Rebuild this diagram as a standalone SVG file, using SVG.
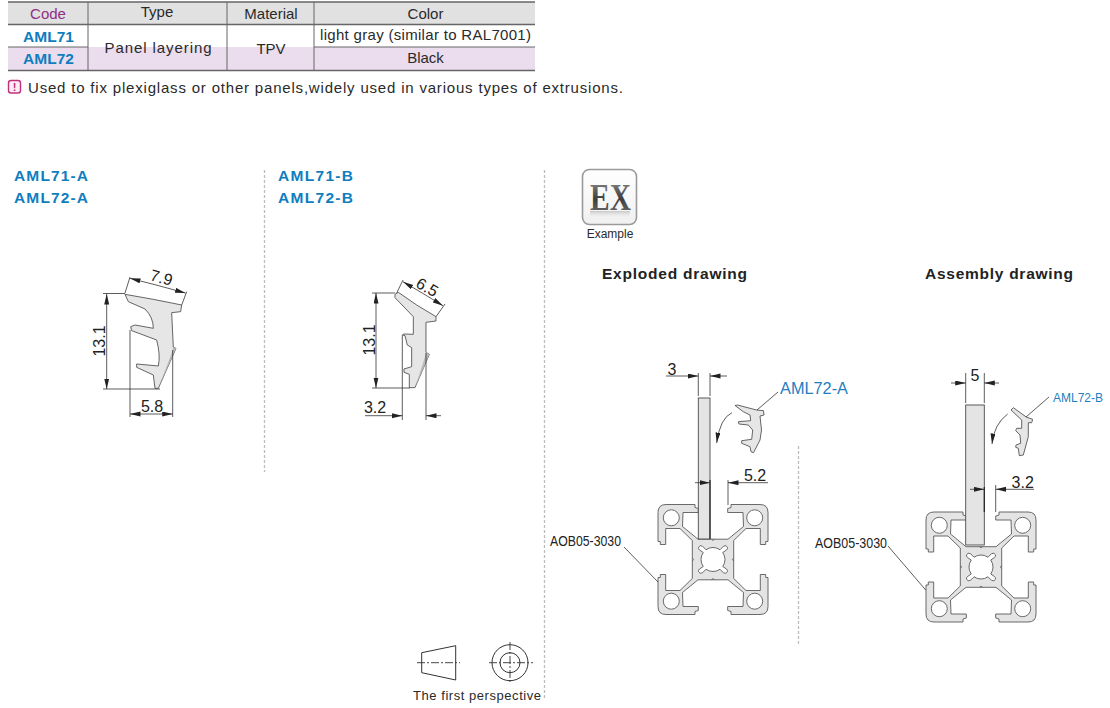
<svg xmlns="http://www.w3.org/2000/svg" xmlns:xlink="http://www.w3.org/1999/xlink" width="1110" height="708" viewBox="0 0 1110 708">
<style>
text{font-family:"Liberation Sans",Arial,sans-serif;fill:#2a2a2a}
.th{font-size:15px;text-anchor:middle}
.td{font-size:15px;text-anchor:middle}
.code{font-size:15.5px;font-weight:bold;fill:#0f7ebf;text-anchor:middle}
.head{font-size:15.5px;font-weight:bold;fill:#0f7ebf}
.sub{font-size:15.5px;font-weight:bold;fill:#222}
.dim{font-size:16px;text-anchor:middle;fill:#222}
.narrow{font-size:15px;fill:#222}
.tl{stroke:#666;stroke-width:1;fill:none}
.tlb{stroke:#666;stroke-width:1.6;fill:none}
.sep{stroke:#bdbdbd;stroke-width:1.3;stroke-dasharray:3 2;fill:none}
.seal{fill:#e6e6e6;stroke:#555;stroke-width:.9;stroke-linejoin:round}
.ln{stroke:#333;stroke-width:.8;fill:none}
.da{stroke:#333;stroke-width:.8;fill:none;marker-end:url(#arr)}
.prof{fill:#e4e4e4;stroke:#5a5a5a;stroke-width:.9;stroke-linejoin:round}
.hole{fill:#fff;stroke:#5a5a5a;stroke-width:.9;stroke-linejoin:round}
.plate{fill:#e4e4e4;stroke:#4a4a4a;stroke-width:.9}
.sym{fill:none;stroke:#333;stroke-width:1}
</style>
<defs>
<marker id="arr" markerUnits="userSpaceOnUse" markerWidth="11" markerHeight="6" refX="10.5" refY="2.5" orient="auto"><path d="M0 0L10.5 2.5L0 5Z" fill="#222"/></marker>
<linearGradient id="exg" x1="0" y1="0" x2="0" y2="1"><stop offset="0" stop-color="#9a9a9a"/><stop offset=".55" stop-color="#3d3d3d"/><stop offset="1" stop-color="#777"/></linearGradient>
<linearGradient id="icon" x1="0" y1="0" x2="0" y2="1"><stop offset="0" stop-color="#fff"/><stop offset="1" stop-color="#f0f0f0"/></linearGradient>
<linearGradient id="refl" x1="0" y1="0" x2="0" y2="1"><stop offset="0" stop-color="#aaa"/><stop offset="1" stop-color="#fff" stop-opacity="0"/></linearGradient>
<g id="extr">
<path class="prof" d="M-20.7 0L-20.7 -19L-33 -31L-47.3 -31L-47.3 -15L-52.7 -15L-52.7 -18L-55 -18L-55 -47Q-55 -55 -47 -55L-18 -55L-18 -52L-14.7 -51L-14.7 -47L-30 -47L-30.5 -33L-15 -20.3L15 -20.3L30.5 -33L30 -47L14.7 -47L14.7 -51L18 -52L18 -55L47 -55Q55 -55 55 -47L55 -18L52.7 -18L52.7 -15L47.3 -15L47.3 -31L33 -31L20.700 -19L20.700 19L33 31L47.3 31L47.3 15L52.7 15L52.7 18L55 18L55 47Q55 55 47 55L18 55L18 52L14.7 51L14.7 47L30 47L30.5 33L15 20.3L-15 20.3L-30.5 33L-30 47L-14.7 47L-14.7 51L-18 52L-18 55L-47 55Q-55 55 -55 47L-55 18L-52.7 18L-52.7 15L-47.3 15L-47.3 31L-33 31L-20.7 19Z"/>
<path class="hole" d="M-7 -9.75A12 12 0 0 1 7 -9.75L10.500 -13.3Q13.300 -14.800 14.400 -12.300Q14.900 -10.700 13.500 -9.500L9.750 -7A12 12 0 0 1 9.750 7L13.500 9.500Q14.900 10.700 14.400 12.300Q13.300 14.800 10.500 13.300L7 9.750A12 12 0 0 1 -7 9.750L-10.500 13.300Q-13.300 14.800 -14.400 12.300Q-14.900 10.700 -13.500 9.500L-9.750 7A12 12 0 0 1 -9.750 -7L-13.500 -9.500Q-14.900 -10.700 -14.400 -12.300Q-13.300 -14.800 -10.500 -13.300Z"/>
<path d="M-1.500 -20.300L0 -19L1.500 -20.300M-1.500 20.300L0 19L1.500 20.300M-20.700 -1.500L-19.400 0L-20.700 1.500M20.700 -1.500L19.400 0L20.700 1.500" fill="none" stroke="#5a5a5a" stroke-width=".8"/>
<circle class="hole" cx="-41.7" cy="-41.7" r="8"/><circle class="hole" cx="41.7" cy="-41.7" r="8"/><circle class="hole" cx="-41.7" cy="41.7" r="8"/><circle class="hole" cx="41.7" cy="41.7" r="8"/>
</g>
</defs>
<rect width="1110" height="708" fill="#fff"/>

<g id="spec-table">
<rect x="8" y="2" width="527" height="22.5" fill="#e1e1e1"/>
<rect x="8" y="47" width="527" height="23.5" fill="#ebdcee"/>
<path class="tlb" d="M8 2H535M8 24.500H535M8 70.500H535"/>
<path class="tl" d="M8 47H88M314 47H535M88 2V70.500M227 2V70.500M314 2V70.500"/>
<text class="th" x="48" y="18.500" style="fill:#8f2f86">Code</text>
<text class="th" x="157" y="17">Type</text>
<text class="th" x="271" y="18.500">Material</text>
<text class="th" x="425.500" y="18.500">Color</text>
<text class="code" x="48.500" y="41.500">AML71</text>
<text class="code" x="48.500" y="63.500">AML72</text>
<text class="td" x="158" y="53" textLength="107">Panel layering</text>
<text class="td" x="271" y="53.500">TPV</text>
<text class="td" x="425.500" y="40" textLength="211">light gray (similar to RAL7001)</text>
<text class="td" x="425.500" y="62.500">Black</text>
</g>

<g id="note">
<rect x="8.500" y="80.500" width="12" height="12.500" rx="2.500" fill="#fbeef4" stroke="#c2307c" stroke-width="1.400"/>
<text x="14.500" y="91" style="font-size:11px;font-weight:bold;fill:#c2307c;text-anchor:middle">!</text>
<text x="28" y="92.500" style="font-size:15px" textLength="595">Used to fix plexiglass or other panels,widely used in various types of extrusions.</text>
</g>

<g id="separators">
<path class="sep" d="M264.500 170V472M544.500 170V700M798.500 446V646"/>
</g>

<g id="seal-a">
<text class="head" x="14" y="181" textLength="74">AML71-A</text>
<text class="head" x="14" y="203" textLength="74">AML72-A</text>
<g transform="translate(90 260) scale(.3333)">
<path class="seal" style="stroke-width:2.700" d="M105 103L190 118L275 135L272 155L245 158L250 262L258 265L205 385L195 385L190 345L140 322L140 312L205 318Q212 285 200 240L125 212L122 200L135 195L190 205Q190 172 165 147L115 125Z"/>
<path d="M250 262L258 265L205 385L245 280Z" fill="#b9b9b9"/>
</g>
<text class="dim" transform="translate(105 341) rotate(-90)">13.1</text>
<text class="dim" transform="translate(160 283) rotate(15)">7.9</text>
<text class="dim" x="152" y="412">5.8</text>
</g>

<g id="seal-b">
<text class="head" x="278" y="181" textLength="75">AML71-B</text>
<text class="head" x="278" y="203" textLength="75">AML72-B</text>
<g transform="translate(350 265) scale(.3333)">
<path class="seal" style="stroke-width:2.700" d="M135 88L145 82L200 120L258 155L258 168L228 172L228 262L238 268L195 368L178 368L178 328L162 322L162 312L185 305L185 248L172 240L165 212L158 210L160 207L190 208L190 155L135 98Z"/>
<path d="M228 262L238 268L195 368L222 285Z" fill="#b9b9b9"/>
</g>
<text class="dim" transform="translate(374.500 340) rotate(-90)">13.1</text>
<text class="dim" transform="translate(424.500 292) rotate(30)">6.5</text>
<text class="dim" x="375" y="413">3.2</text>
</g>

<g id="example-icon">
<rect x="582.500" y="169.500" width="54" height="55" rx="7" fill="url(#icon)" stroke="#9a9a9a" stroke-width="1.600"/>
<text x="610.500" y="210" style="font-family:'Liberation Serif',serif;font-size:38px;font-weight:bold;fill:url(#exg);text-anchor:middle" textLength="41" lengthAdjust="spacingAndGlyphs">EX</text>
<rect x="590" y="211" width="40" height="8" fill="url(#refl)" opacity=".6"/>
<text x="610" y="238" style="font-size:12px;text-anchor:middle">Example</text>
</g>

<g id="exploded">
<text class="sub" x="602" y="279" textLength="145">Exploded drawing</text>
<use href="#extr" xlink:href="#extr" x="713" y="559.500"/>
<rect class="plate" x="698.300" y="398" width="11.700" height="141"/>
<path d="M710 480V539" stroke="#222" stroke-width="1.200"/>
<path class="seal" d="M735 405.500L737.500 405L756.500 410L763.500 410.700L764 415L760 416L761.500 430L760 440L753.500 452.700L751 451.700L750 446.700L741.700 443.300L741.700 440.700L751.700 439.300L752.700 430L748.300 425L739 424L738.300 421.700L750.700 420.700L750 415L743.300 411.700Z"/>
<text x="780" y="394" style="font-size:16px;fill:#1f80c0" textLength="68" lengthAdjust="spacingAndGlyphs">AML72-A</text>
<text class="narrow" x="550" y="546" textLength="71" lengthAdjust="spacingAndGlyphs">AOB05-3030</text>
<text class="dim" x="672" y="375">3</text>
<text class="dim" x="755" y="481">5.2</text>
</g>

<g id="assembly">
<text class="sub" x="925" y="279" textLength="148">Assembly drawing</text>
<use href="#extr" xlink:href="#extr" x="981" y="567"/>
<rect class="plate" x="965.700" y="405" width="18.600" height="140"/>
<path d="M984.300 487V512" stroke="#222" stroke-width="1.200"/>
<path class="seal" d="M1011 410L1013.300 407.700L1026.700 417.300L1032.700 419.300L1031.700 422.700L1028.300 422.700L1028.300 436.700L1023.300 455L1019.300 455.700L1018.300 448.300L1015.700 447.300L1016 445L1020.700 443.300L1020 435L1015.700 430.700L1016.700 428.300L1021.700 428.300L1021.700 420Z"/>
<text x="1053" y="401.500" style="font-size:13.500px;fill:#1f80c0" textLength="50" lengthAdjust="spacingAndGlyphs">AML72-B</text>
<text class="narrow" x="815" y="548" textLength="72" lengthAdjust="spacingAndGlyphs">AOB05-3030</text>
<text class="dim" x="975" y="381">5</text>
<text class="dim" x="1022.700" y="488">3.2</text>
</g>

<g id="projection-symbol">
<path class="sym" d="M421.700 652.700L455.700 645.700V680L421.700 672.700Z"/>
<path d="M417 662.700H460" stroke="#333" stroke-width=".9" stroke-dasharray="8 2 2 2" fill="none"/>
<circle class="sym" cx="510" cy="662.700" r="18"/>
<circle class="sym" cx="510" cy="662.700" r="10"/>
<path d="M489 662.700H533M510 642V684" stroke="#333" stroke-width=".9" stroke-dasharray="8 2 2 2" fill="none"/>
<text x="413" y="700" style="font-size:13px" textLength="128">The first perspective</text>
</g>

<g id="connectors">
<path class="ln" d="M103 293.500H125M103 389H160M130 330V417M172.700 350V417M125 293L130 277M181.700 305L186.700 291.700"/>
<path class="da" d="M106.700 341V294"/><path class="da" d="M106.700 341V389"/>
<path class="da" d="M158 285.500L130 278.300"/><path class="da" d="M158 285.500L185.500 293"/>
<path class="da" d="M151 414H130"/><path class="da" d="M151 414H172.700"/>

<path class="ln" d="M372 293H395M372 388H410M402.300 335V420M426 353V420M396.700 293L403 280M436 316.700L445 304"/>
<path class="da" d="M376 340V293"/><path class="da" d="M376 340V388"/>
<path class="da" d="M423 293.500L403 281.700"/><path class="da" d="M423 293.500L443 305.700"/>
<path class="da" d="M365 415.700H402.300"/><path class="da" d="M441 415.700H426"/>

<path class="ln" d="M698.300 373V396M710 373V396M728 480V505"/>
<path class="da" d="M666 376H698.300"/><path class="da" d="M727 376H710"/>
<path class="da" d="M695 482.700H710"/><path class="da" d="M768 482.700H728"/>
<path class="ln" d="M778 392L757 410M624 547L658 582"/>
<path class="da" d="M732 412.700Q720 418 716.700 443"/>

<path class="ln" d="M965.700 373V403M984.300 373V403M995.700 485V512"/>
<path class="da" d="M951 383H965.700"/><path class="da" d="M999 383H984.300"/>
<path class="da" d="M970 489.300H984.300"/><path class="da" d="M1034 489.300H995.700"/>
<path class="ln" d="M1049 397L1026 417M888 546L925.700 590"/>
<path class="da" d="M1007.700 414Q994 424 992 444"/>
</g>
</svg>
